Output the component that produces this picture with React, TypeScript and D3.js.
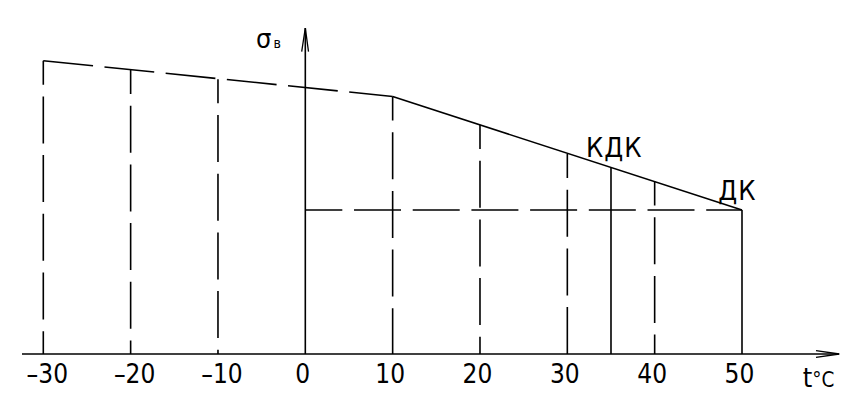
import React from "react";
import * as d3 from "d3";

const tempTicks = [-30, -20, -10, 0, 10, 20, 30, 40, 50];
const dashedCurve = [
  { t: -30, s: 293.3 },
  { t: 10, s: 257.5 },
];
const solidCurve = [
  { t: 10, s: 257.5 },
  { t: 50, s: 144 },
];
const dashedVerticals = [
  { t: -30, s: 293.3 },
  { t: -20, s: 284 },
  { t: -10, s: 274.7 },
  { t: 10, s: 257.5 },
  { t: 20, s: 229 },
  { t: 30, s: 200 },
  { t: 40, s: 172.5 },
];
const solidVerticals = [
  { t: 35, s: 186.5 },
  { t: 50, s: 144 },
];
const levelLine = [
  { t: 0, s: 144 },
  { t: 50, s: 144 },
];

const FONT = "'Liberation Sans Narrow', 'DejaVu Sans Condensed', sans-serif";

export default function App() {
  const x = d3.scaleLinear().domain([-30, 50]).range([43.3, 742]);
  const y = d3.scaleLinear().domain([0, 300]).range([354, 54]);
  const line = d3
    .line<{ t: number; s: number }>()
    .x((d) => x(d.t))
    .y((d) => y(d.s));
  const x0 = x(0);
  const base = y(0);
  const sw = 1.6;
  const dash = "47 11.7";

  return (
    <svg
      width={855}
      height={412}
      style={{ position: "absolute", left: 0, top: 0, background: "#fff" }}
    >
      {/* axes */}
      <line x1={22} y1={base} x2={839} y2={base} stroke="#000" strokeWidth={sw} />
      <polyline
        points={`816,350.6 839.3,${base} 816,357.4`}
        fill="none"
        stroke="#000"
        strokeWidth={1.3}
      />
      <line x1={x0} y1={base} x2={x0} y2={28} stroke="#000" strokeWidth={sw} />
      <polyline
        points={`301.7,51.7 ${x0},28 308.5,51.7`}
        fill="none"
        stroke="#000"
        strokeWidth={1.3}
      />

      {/* curve */}
      <path d={line(dashedCurve) || ""} fill="none" stroke="#000" strokeWidth={sw} strokeDasharray="50 11.5" />
      <path d={line(solidCurve) || ""} fill="none" stroke="#000" strokeWidth={sw} />

      {/* verticals */}
      {dashedVerticals.map((d) => (
        <line
          key={"dv" + d.t}
          x1={x(d.t)}
          y1={y(d.s)}
          x2={x(d.t)}
          y2={base}
          stroke="#000"
          strokeWidth={sw}
          strokeDasharray={dash}
          strokeDashoffset={23}
        />
      ))}
      {solidVerticals.map((d) => (
        <line
          key={"sv" + d.t}
          x1={x(d.t)}
          y1={y(d.s)}
          x2={x(d.t)}
          y2={base}
          stroke="#000"
          strokeWidth={sw}
        />
      ))}
      <path
        d={line(levelLine) || ""}
        fill="none"
        stroke="#000"
        strokeWidth={sw}
        strokeDasharray={dash}
        strokeDashoffset={10}
      />

      {/* tick labels */}
      {tempTicks.map((t) => (
        <text
          key={"tl" + t}
          x={x(t) + (t < 0 ? 4 : -2.5)}
          y={383}
          textAnchor="middle"
          fontFamily={FONT}
          fontSize={26}
          fill="#000"
        >
          {t < 0 ? "\u2013" + Math.abs(t) : String(t)}
        </text>
      ))}

      {/* labels */}
      <text x={802.7} y={387} fontFamily={FONT} fill="#000">
        <tspan fontSize={27}>t</tspan>
        <tspan fontSize={20.5}>°C</tspan>
      </text>
      <text x={586} y={156.7} fontFamily={FONT} fontSize={27} fill="#000" letterSpacing={1}>
        КДК
      </text>
      <text x={718.3} y={200} fontFamily={FONT} fontSize={27} fill="#000" letterSpacing={1}>
        ДК
      </text>
      <text x={256} y={48.3} fontFamily={FONT} fill="#000">
        <tspan fontSize={27}>σ</tspan>
        <tspan fontSize={14} dx={2}>в</tspan>
      </text>
    </svg>
  );
}
